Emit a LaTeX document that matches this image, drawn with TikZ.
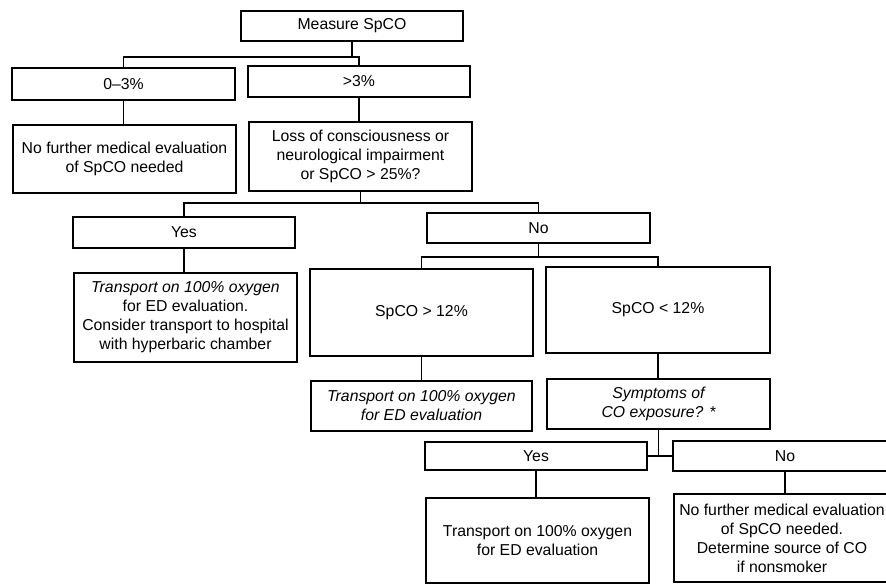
\documentclass[tikz,border=0pt]{standalone}
\usepackage{fontspec}
\setmainfont{Liberation Sans}
\tikzset{
  box/.style={draw, line width=1.1pt, inner sep=0pt, align=center,
    font=\fontsize{15.8}{19}\selectfont},
  conn/.style={line width=1.1pt}
}
\begin{document}
\begin{tikzpicture}[x=1pt,y=-1pt]
\useasboundingbox (0,0) rectangle (886,585);
\clip (0,0) rectangle (886,585);
\node[box, minimum width=222pt, minimum height=30pt] (m) at (352,26) {Measure SpCO};
\node[box, minimum width=223pt, minimum height=32pt] (a) at (123.5,84) {0--3\%};
\node[box, minimum width=222pt, minimum height=31pt] (b) at (359,81.5) {>3\%};
\node[box, minimum width=223pt, minimum height=68pt] (c) at (124.5,159) {No further medical evaluation\\of SpCO needed};
\node[box, minimum width=223pt, minimum height=69pt] (d) at (360.5,156.5) {Loss of consciousness or\\neurological impairment\\or SpCO > 25\%?};
\node[box, minimum width=222pt, minimum height=31pt] (e) at (184,232.5) {Yes};
\node[box, minimum width=223pt, minimum height=30pt] (f) at (538.5,228) {No};
\node[box, minimum width=223pt, minimum height=89pt] (g) at (185.5,317.5) {\itshape Transport on 100\% oxygen\\for ED evaluation.\\Consider transport to hospital\\with hyperbaric chamber};
\node[box, minimum width=223pt, minimum height=87pt] (h) at (421.5,312.5) {SpCO > 12\%};
\node[box, minimum width=224pt, minimum height=86pt] (i) at (658,310) {SpCO < 12\%};
\node[box, minimum width=221pt, minimum height=50pt] (j) at (421.5,406) {\itshape Transport on 100\% oxygen\\\itshape for ED evaluation};
\node[box, minimum width=223pt, minimum height=50pt] (k) at (658.5,404) {\itshape Symptoms of\\\itshape CO exposure? *};
\node[box, minimum width=222pt, minimum height=28pt] (l) at (536,456) {Yes};
\node[box, minimum width=224pt, minimum height=30pt] (n) at (785,456) {No};
\node[box, minimum width=223pt, minimum height=85pt] (o) at (537.5,540.5) {Transport on 100\% oxygen\\for ED evaluation};
\node[box, minimum width=216pt, minimum height=88pt] (p) at (782,538) {No further medical evaluation\\of SpCO needed.\\Determine source of CO\\if nonsmoker};
\coordinate (j1) at (352,57);
\coordinate (j2) at (360.5,203);
\coordinate (j3) at (538.5,257);
\draw[conn] (m.south) -- (j1);
\draw[conn] (a.north) |- (j1) -| (b.north);
\draw[conn] (a.south) -- (a.south |- c.north);
\draw[conn] (b.south) -- (b.south |- d.north);
\draw[conn] (d.south) -- (j2);
\draw[conn] (e.north) |- (j2) -| (f.north);
\draw[conn] (e.south) -- (e.south |- g.north);
\draw[conn] (f.south) -- (j3);
\draw[conn] (h.north) |- (j3) -| (i.north);
\draw[conn] (h.south) -- (h.south |- j.north);
\draw[conn] (i.south) -- (i.south |- k.north);
\draw[conn] (k.south) -- (k.south |- l.east);
\draw[conn] (l.east) -- (n.west);
\draw[conn] (l.south) -- (l.south |- o.north);
\draw[conn] (n.south) -- (n.south |- p.north);
\end{tikzpicture}
\end{document}
